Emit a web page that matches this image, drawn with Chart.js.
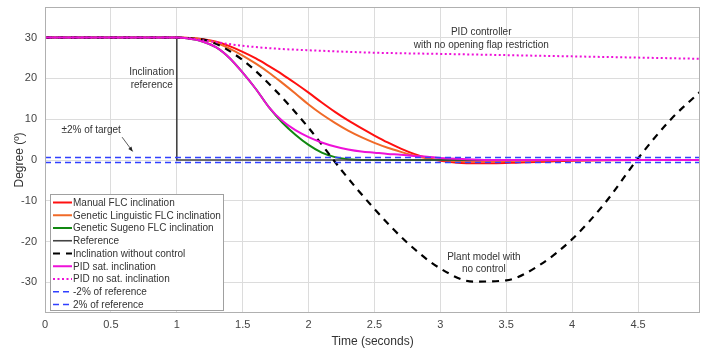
<!DOCTYPE html>
<html>
<head>
<meta charset="utf-8">
<script src="https://cdn.jsdelivr.net/npm/chart.js@4/dist/chart.umd.min.js"></script>
<style>
  html, body { margin: 0; padding: 0; background: #fff; }
  #wrap { width: 702px; height: 352px; }
</style>
</head>
<body>
<div id="wrap"><canvas id="chart"></canvas></div>
<script>
// time grid shared by the controlled responses
const tCtrl = [0, 1, 1.1, 1.2, 1.3, 1.4, 1.5, 1.6, 1.7, 1.8, 1.9, 2.0, 2.1, 2.2, 2.3, 2.4, 2.5, 2.6, 2.7, 2.8, 2.9, 3.0, 3.2, 3.4, 3.6, 3.8, 4.0, 4.5, 4.97];

const manualFlc = [30, 30, 29.9, 29.6, 29.0, 27.9, 26.5, 24.9, 23.0, 21.0, 18.8, 16.5, 14.1, 11.8, 9.7, 7.8, 6.0, 4.3, 2.8, 1.5, 0.5, -0.2, -0.8, -0.8, -0.6, -0.4, -0.2, 0, 0];
const linguisticFlc = [30, 30, 29.9, 29.5, 28.7, 27.3, 25.6, 23.6, 21.4, 18.9, 16.3, 13.6, 11.2, 9.1, 7.2, 5.6, 4.2, 3.0, 2.0, 1.1, 0.4, 0, -0.3, -0.3, -0.2, -0.1, 0, 0, 0];
const sugenoFlc = [30, 30, 29.7, 29.0, 27.6, 25.0, 21.4, 17.4, 12.9, 9.2, 6.2, 3.7, 1.8, 0.7, 0.2, 0, 0, 0, 0, 0, 0, 0, 0, 0, 0, 0, 0, 0, 0];
const pidSat = [30, 30, 29.7, 29.0, 27.6, 25.0, 21.4, 17.4, 12.9, 9.6, 7.3, 5.6, 4.3, 3.3, 2.6, 2.1, 1.8, 1.5, 1.3, 1.0, 0.8, 0.5, 0.2, 0, 0, 0, 0, 0, 0];

const tRef = [0, 1, 1, 4.97];
const reference = [30, 30, 0, 0];

const tOpen = [0, 1, 1.1, 1.25, 1.5, 1.75, 2, 2.25, 2.5, 2.75, 3, 3.25, 3.5, 3.75, 4, 4.25, 4.5, 4.75, 4.97];
const noControl = [30, 30, 29.8, 29.1, 24.5, 17.0, 7.9, -2.5, -12.0, -20.3, -26.6, -29.8, -29.5, -25.8, -19.4, -10.5, 0.4, 10.0, 16.7];

const tPidNoSat = [0, 1, 1.1, 1.25, 1.5, 1.75, 2, 2.5, 3, 3.5, 4, 4.5, 4.97];
const pidNoSat = [30, 30, 29.8, 29.1, 28.0, 27.3, 26.9, 26.3, 26.0, 25.7, 25.4, 25.1, 24.8];

const tBand = [0, 4.97];
const bandLow = [-0.6, -0.6];
const bandHigh = [0.6, 0.6];

const seriesLabels = [
  "Manual FLC inclination",
  "Genetic Linguistic FLC inclination",
  "Genetic Sugeno FLC inclination",
  "Reference",
  "Inclination without control",
  "PID sat. inclination",
  "PID no sat. inclination",
  "-2% of reference",
  "2% of reference",
];

const FONT = "'Liberation Sans', Arial, sans-serif";
const pts = (xs, ys) => xs.map((x, i) => ({ x: x, y: ys[i] }));

const datasets = [
  { data: pts(tCtrl, manualFlc), borderColor: "#ff1010", borderWidth: 2 },
  { data: pts(tCtrl, linguisticFlc), borderColor: "#f06a28", borderWidth: 2 },
  { data: pts(tCtrl, sugenoFlc), borderColor: "#118811", borderWidth: 2 },
  { data: pts(tRef, reference), borderColor: "#444444", borderWidth: 1.6, cubicInterpolationMode: "default", tension: 0 },
  { data: pts(tOpen, noControl), borderColor: "#000000", borderWidth: 2.2, borderDash: [7, 6] },
  { data: pts(tCtrl, pidSat), borderColor: "#ee10d8", borderWidth: 2 },
  { data: pts(tPidNoSat, pidNoSat), borderColor: "#ee10d8", borderWidth: 2, borderDash: [2, 2.5] },
  { data: pts(tBand, bandLow), borderColor: "#3040ff", borderWidth: 1.5, borderDash: [6, 4] },
  { data: pts(tBand, bandHigh), borderColor: "#3040ff", borderWidth: 1.5, borderDash: [6, 4] },
].map((d, i) => Object.assign({
  label: seriesLabels[i],
  pointRadius: 0,
  fill: false,
  cubicInterpolationMode: "monotone",
  order: 10 - i, // later series of the legend sit on top
}, d));

// box around the plot area
const frame = {
  id: "frame",
  afterDatasetsDraw(chart) {
    const { ctx, chartArea: a } = chart;
    ctx.save();
    ctx.strokeStyle = "#b0b0b0";
    ctx.lineWidth = 1;
    ctx.strokeRect(a.left + 0.5, a.top + 0.5, a.right - a.left - 1, a.bottom - a.top - 1);
    ctx.restore();
  },
};

// text notes on the plot
const notes = {
  id: "notes",
  afterDatasetsDraw(chart) {
    const { ctx, scales: { x, y } } = chart;
    ctx.save();
    ctx.fillStyle = "#333";
    ctx.font = "10px " + FONT;
    ctx.textAlign = "center";
    ctx.textBaseline = "middle";
    const put = (txt, tx, ty) => ctx.fillText(txt, x.getPixelForValue(tx), y.getPixelForValue(ty));
    put("PID controller", 3.31, 31.4);
    put("with no opening flap restriction", 3.31, 28.2);
    put("Inclination", 0.81, 21.6);
    put("reference", 0.81, 18.4);
    put("±2% of target", 0.35, 7.3);
    put("Plant model with", 3.33, -23.8);
    put("no control", 3.33, -26.7);

    // arrow to the band
    const x1 = x.getPixelForValue(0.585), y1 = y.getPixelForValue(5.6);
    const x2 = x.getPixelForValue(0.665), y2 = y.getPixelForValue(2.1);
    ctx.strokeStyle = "#333";
    ctx.lineWidth = 0.8;
    ctx.beginPath();
    ctx.moveTo(x1, y1);
    ctx.lineTo(x2, y2);
    ctx.stroke();
    const ang = Math.atan2(y2 - y1, x2 - x1);
    ctx.beginPath();
    ctx.moveTo(x2, y2);
    ctx.lineTo(x2 - 5 * Math.cos(ang - 0.4), y2 - 5 * Math.sin(ang - 0.4));
    ctx.lineTo(x2 - 5 * Math.cos(ang + 0.4), y2 - 5 * Math.sin(ang + 0.4));
    ctx.closePath();
    ctx.fillStyle = "#222";
    ctx.fill();
    ctx.restore();
  },
};

// legend box inside the plot, lower left
const boxLegend = {
  id: "boxLegend",
  afterDraw(chart) {
    const { ctx, chartArea: a } = chart;
    const x0 = a.left + 5, y0 = a.top + 187, w = 173, h = 116, row = 12.75;
    ctx.save();
    ctx.fillStyle = "#fff";
    ctx.fillRect(x0, y0, w, h);
    ctx.strokeStyle = "#a0a0a0";
    ctx.lineWidth = 1;
    ctx.strokeRect(x0 + 0.5, y0 + 0.5, w, h);
    ctx.font = "10px " + FONT;
    ctx.textBaseline = "middle";
    chart.data.datasets.forEach((ds, i) => {
      const yy = y0 + 8.5 + i * row;
      ctx.strokeStyle = ds.borderColor;
      ctx.lineWidth = ds.borderWidth;
      ctx.setLineDash(ds.borderDash || []);
      ctx.beginPath();
      ctx.moveTo(x0 + 3, yy);
      ctx.lineTo(x0 + 22, yy);
      ctx.stroke();
      ctx.setLineDash([]);
      ctx.fillStyle = "#333";
      ctx.fillText(ds.label, x0 + 23, yy + 0.5);
    });
    ctx.restore();
  },
};

new Chart(document.getElementById("chart").getContext("2d"), {
  type: "line",
  data: { datasets },
  plugins: [frame, notes, boxLegend],
  options: {
    responsive: true,
    maintainAspectRatio: false,
    animation: false,
    layout: { padding: { top: 7, right: 2, left: 0, bottom: 0 } },
    plugins: { legend: { display: false }, tooltip: { enabled: false } },
    scales: {
      x: {
        type: "linear",
        min: 0,
        max: 4.97,
        afterFit: (s) => { s.height = 39; s.paddingLeft = 0; s.paddingRight = 0; },
        ticks: { stepSize: 0.5, includeBounds: false, color: "#444", font: { family: FONT, size: 11 }, padding: 5, maxRotation: 0, callback: (v) => String(v) },
        grid: { color: "#dcdcdc", drawTicks: false },
        border: { display: false },
        title: { display: true, text: "Time (seconds)", color: "#333", font: { family: FONT, size: 12 }, padding: { top: 0, bottom: 3 } },
      },
      y: {
        min: -37.5,
        max: 37.5,
        afterFit: (s) => { s.width = 45; s.paddingTop = 0; s.paddingBottom = 0; },
        ticks: { stepSize: 10, includeBounds: false, color: "#444", font: { family: FONT, size: 11 }, padding: 8 },
        grid: { color: "#dcdcdc", drawTicks: false },
        border: { display: false },
        title: { display: true, text: "Degree (º)", color: "#333", font: { family: FONT, size: 12 }, padding: { top: 12, bottom: 0 } },
      },
    },
  },
});
</script>
</body>
</html>
